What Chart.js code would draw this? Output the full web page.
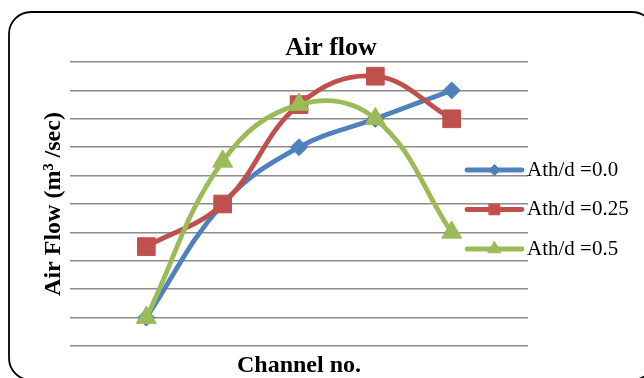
<!DOCTYPE html>
<html>
<head>
<meta charset="utf-8">
<script src="https://cdn.jsdelivr.net/npm/chart.js@4/dist/chart.umd.min.js"></script>
<style>
  html, body { margin: 0; padding: 0; background: #fff; }
  #wrap { position: relative; width: 644px; height: 378px; }
</style>
</head>
<body>
<div id="wrap"><canvas id="c" width="644" height="378"></canvas></div>
<script>
// Channel numbers along the x axis
const channels = [1, 2, 3, 4, 5];

// Air flow per channel for each Ath/d ratio
const flowAth00  = [1, 5, 7, 8, 9];
const flowAth025 = [3.5, 5, 8.5, 9.5, 8];
const flowAth05  = [1, 6.5, 8.5, 8, 4];

const seriesLabels = ['Ath/d =0.0', 'Ath/d =0.25', 'Ath/d =0.5'];

const SERIF = "'Liberation Serif', 'Times New Roman', serif";

const toPoints = vals => vals.map((v, i) => ({ x: channels[i], y: v }));

// Rounded frame around the whole figure
const framePlugin = {
  id: 'frame',
  beforeDraw(chart) {
    const ctx = chart.ctx;
    ctx.save();
    ctx.fillStyle = '#fff';
    ctx.fillRect(0, 0, chart.width, chart.height);
    ctx.strokeStyle = '#000';
    ctx.lineWidth = 1.8;
    ctx.beginPath();
    ctx.roundRect(9, 12, 645, 368, 22);
    ctx.stroke();
    ctx.restore();
  }
};

// Nudge the chart title so it sits centred over the figure
const titlePlacePlugin = {
  id: 'titlePlace',
  afterLayout(chart, args, opts) {
    const tb = chart.titleBlock;
    if (!tb) return;
    const half = (tb.right - tb.left) / 2;
    tb.left = opts.center - half;
    tb.right = opts.center + half;
  }
};

// Legend drawn as a line segment with the series marker in its middle
const lineLegendPlugin = {
  id: 'lineLegend',
  afterDraw(chart, args, opts) {
    const ctx = chart.ctx;
    ctx.save();
    chart.data.datasets.forEach((ds, i) => {
      const y = opts.y0 + i * opts.gap;
      ctx.strokeStyle = ds.borderColor;
      ctx.lineWidth = opts.lineWidth;
      ctx.lineCap = 'round';
      ctx.beginPath();
      ctx.moveTo(opts.x0, y);
      ctx.lineTo(opts.x1, y);
      ctx.stroke();
      ctx.fillStyle = ds.pointBackgroundColor;
      ctx.strokeStyle = ds.pointBackgroundColor;
      ctx.lineWidth = 1;
      Chart.helpers.drawPoint(ctx, {
        pointStyle: ds.pointStyle,
        radius: opts.markerRadius[i],
        rotation: 0,
        borderWidth: 1
      }, (opts.x0 + opts.x1) / 2, y);
      ctx.fillStyle = '#000';
      ctx.font = opts.font;
      ctx.textBaseline = 'middle';
      ctx.textAlign = 'left';
      ctx.fillText(ds.label, opts.textX, y);
    });
    ctx.restore();
  }
};

const colors = ['#4F81BD', '#C0504D', '#9BBB59'];

new Chart(document.getElementById('c'), {
  type: 'line',
  data: {
    datasets: [
      {
        label: seriesLabels[0],
        data: toPoints(flowAth00),
        borderColor: colors[0],
        backgroundColor: colors[0],
        pointBackgroundColor: colors[0],
        pointBorderColor: colors[0],
        pointStyle: 'rectRot',
        pointRadius: 8.5,
        order: 3
      },
      {
        label: seriesLabels[1],
        data: toPoints(flowAth025),
        borderColor: colors[1],
        backgroundColor: colors[1],
        pointBackgroundColor: colors[1],
        pointBorderColor: colors[1],
        pointStyle: 'rect',
        pointRadius: 12.5,
        order: 2
      },
      {
        label: seriesLabels[2],
        data: toPoints(flowAth05),
        borderColor: colors[2],
        backgroundColor: colors[2],
        pointBackgroundColor: colors[2],
        pointBorderColor: colors[2],
        pointStyle: 'triangle',
        pointRadius: 11.5,
        order: 1
      }
    ]
  },
  options: {
    responsive: false,
    animation: false,
    devicePixelRatio: 1,
    layout: { padding: { left: 30, right: 116, top: 24, bottom: 0 } },
    elements: {
      line: { borderWidth: 4.8, tension: 0.4, fill: false },
      point: { borderWidth: 1, hoverRadius: 8 }
    },
    scales: {
      x: {
        type: 'linear',
        min: 0,
        max: 6,
        grid: { display: false, drawTicks: false },
        border: { display: false },
        ticks: { display: false },
        title: {
          display: true,
          text: 'Channel no.',
          color: '#000',
          font: { family: SERIF, size: 24, weight: 'bold', lineHeight: 1.2 },
          padding: { top: 0, bottom: -2 }
        },
        afterFit(scale) { scale.height = 32; }
      },
      y: {
        min: 0,
        max: 10,
        ticks: { display: false, stepSize: 1 },
        grid: { color: '#8c8c8c', lineWidth: 1.6, drawTicks: false },
        border: { display: false },
        title: {
          display: true,
          text: 'Air Flow (m³ /sec)',
          color: '#000',
          font: { family: SERIF, size: 24, weight: 'bold', lineHeight: 1.2 },
          padding: { top: 9, bottom: 0 }
        },
        afterFit(scale) { scale.width = 40; }
      }
    },
    plugins: {
      legend: { display: false },
      tooltip: { enabled: false },
      title: {
        display: true,
        text: 'Air flow',
        color: '#000',
        font: { family: SERIF, size: 26, weight: 'bold', lineHeight: 1 },
        padding: { top: 11, bottom: 1 }
      },
      titlePlace: { center: 331 },
      lineLegend: {
        x0: 467, x1: 522, textX: 527,
        y0: 170, gap: 39.5,
        lineWidth: 4.8,
        markerRadius: [5.5, 7.5, 7.5],
        font: "21px 'Liberation Serif', 'Times New Roman', serif"
      }
    }
  },
  plugins: [framePlugin, titlePlacePlugin, lineLegendPlugin]
});
</script>
</body>
</html>
